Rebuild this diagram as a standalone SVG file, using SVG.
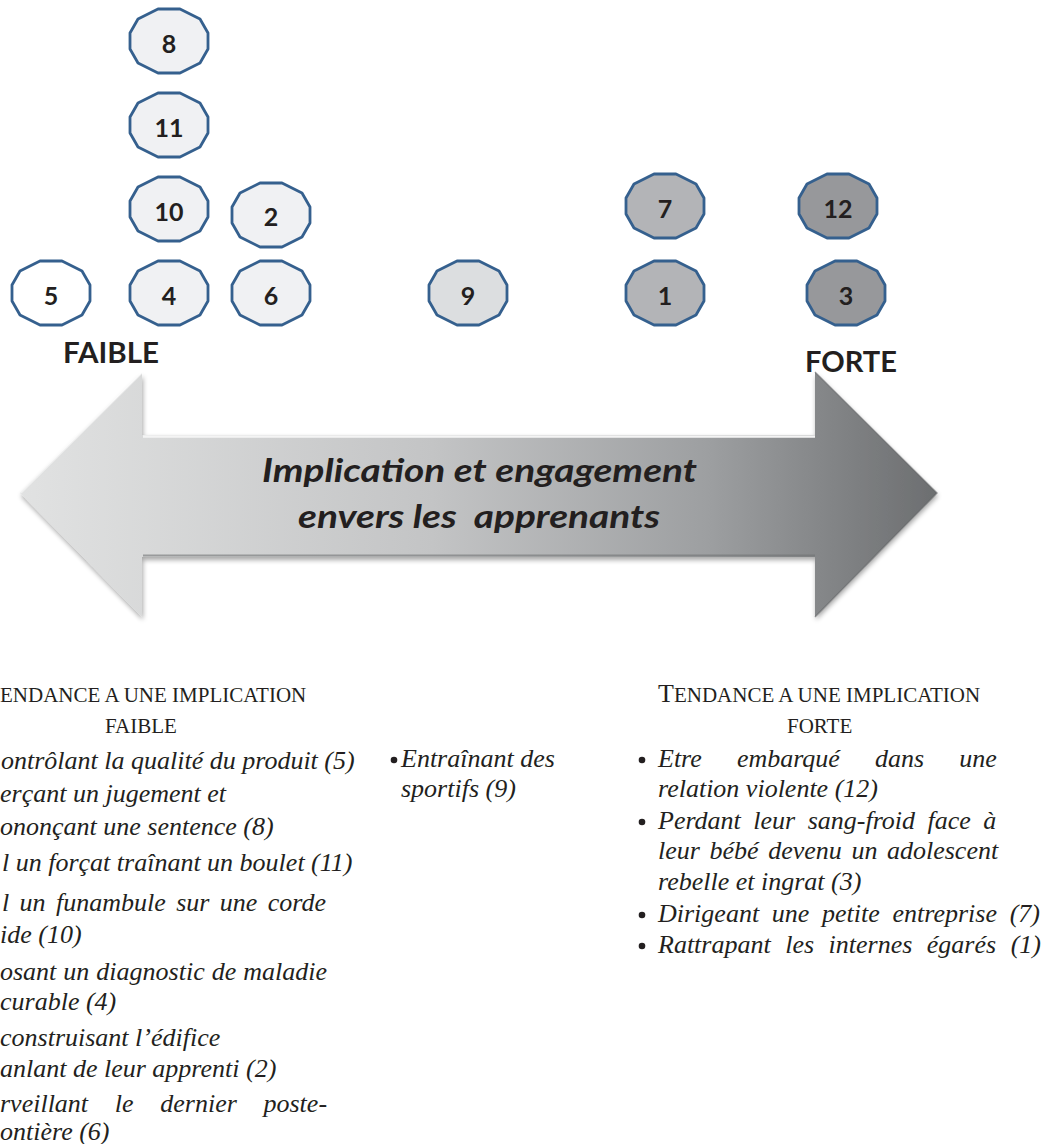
<svg xmlns="http://www.w3.org/2000/svg" width="1043" height="1144" viewBox="0 0 1043 1144">
<defs>
<style>
.oct{stroke:#35608e;stroke-width:2.8;stroke-linejoin:round}
.lvl0{fill:#ffffff}
.lvl1{fill:#f0f1f3}
.lvl2{fill:#dcdee0}
.lvl3{fill:#b3b4b7}
.lvl4{fill:#97989b}
.num{font-family:Lato,"Open Sans","Liberation Sans",sans-serif;font-weight:700;font-size:25px;fill:#231f20;text-anchor:middle}
.pole{font-family:Lato,"Open Sans","Liberation Sans",sans-serif;font-weight:700;font-size:28px;fill:#231f20}
.axis{font-family:Lato,"Open Sans","Liberation Sans",sans-serif;font-weight:700;font-style:italic;font-size:32px;fill:#231f20;white-space:pre}
.hd{font-family:"Liberation Serif","Times New Roman",serif;fill:#231f20;font-size:21px}
.it{font-family:"Liberation Serif","Times New Roman",serif;font-style:italic;font-size:26px;fill:#231f20}
.bul{fill:#231f20}
</style>
<polygon id="oct" points="-11,-32 11,-32 31,-22 39,-8 39,8 31,22 11,32 -11,32 -31,22 -39,8 -39,-8 -31,-22"/>
<linearGradient id="arrowGrad" x1="20" y1="0" x2="937" y2="0" gradientUnits="userSpaceOnUse">
<stop offset="0" stop-color="#e1e2e2"/>
<stop offset="0.45" stop-color="#c3c4c5"/>
<stop offset="0.75" stop-color="#9d9fa1"/>
<stop offset="1" stop-color="#6c6e70"/>
</linearGradient>
<filter id="shadow" x="-5%" y="-10%" width="110%" height="130%">
<feGaussianBlur in="SourceAlpha" stdDeviation="2.5"/>
<feOffset dx="1" dy="3" result="b"/>
<feComponentTransfer><feFuncA type="linear" slope="0.35"/></feComponentTransfer>
<feMerge><feMergeNode/><feMergeNode in="SourceGraphic"/></feMerge>
</filter>
</defs>
<rect width="1043" height="1144" fill="#ffffff"/>

<g id="node-8" transform="translate(169,41)"><use href="#oct" class="oct lvl1"/><text class="num" y="12">8</text></g>
<g id="node-11" transform="translate(169,125)"><use href="#oct" class="oct lvl1"/><text class="num" y="12">11</text></g>
<g id="node-10" transform="translate(169,209)"><use href="#oct" class="oct lvl1"/><text class="num" y="12">10</text></g>
<g id="node-2" transform="translate(271,215)"><use href="#oct" class="oct lvl1"/><text class="num" y="11">2</text></g>
<g id="node-4" transform="translate(169,293)"><use href="#oct" class="oct lvl1"/><text class="num" y="12">4</text></g>
<g id="node-6" transform="translate(271,293)"><use href="#oct" class="oct lvl1"/><text class="num" y="12">6</text></g>
<g id="node-5" transform="translate(51,293)"><use href="#oct" class="oct lvl0"/><text class="num" y="12">5</text></g>
<g id="node-9" transform="translate(468,293)"><use href="#oct" class="oct lvl2"/><text class="num" y="12">9</text></g>
<g id="node-7" transform="translate(665,206)"><use href="#oct" class="oct lvl3"/><text class="num" y="12">7</text></g>
<g id="node-1" transform="translate(665,293)"><use href="#oct" class="oct lvl3"/><text class="num" y="12">1</text></g>
<g id="node-12" transform="translate(838,206)"><use href="#oct" class="oct lvl4"/><text class="num" y="12">12</text></g>
<g id="node-3" transform="translate(846,293)"><use href="#oct" class="oct lvl4"/><text class="num" y="12">3</text></g>

<g id="pole-labels">
<text class="pole" x="63" y="363" textLength="96" lengthAdjust="spacingAndGlyphs">FAIBLE</text>
<text class="pole" x="805" y="372" textLength="92" lengthAdjust="spacingAndGlyphs">FORTE</text>
</g>

<g id="connectors">
<g id="axis-arrow">
<polygon points="20,493 142,373 142,435 815,435 815,372 937,493 815,617 815,557 142,557 142,617" fill="url(#arrowGrad)" filter="url(#shadow)"/>
<line x1="143" y1="436.5" x2="815" y2="436.5" stroke="#f4f4f4" stroke-width="2.5"/>
<line x1="143" y1="555.5" x2="815" y2="555.5" stroke="#6f7173" stroke-opacity="0.6" stroke-width="2"/>
<polyline points="21,493 142,373" fill="none" stroke="#ffffff" stroke-opacity="0.5" stroke-width="1.5"/>
<polyline points="815,372 937,493 815,617" fill="none" stroke="#5e6062" stroke-opacity="0.5" stroke-width="1.5"/>
<text class="axis" x="262" y="482" textLength="435" lengthAdjust="spacingAndGlyphs">Implication et engagement</text>
<text class="axis" x="298" y="528" textLength="362" lengthAdjust="spacingAndGlyphs">envers les  apprenants</text>
</g>
</g>

<g id="col-faible">
<text class="hd" x="0" y="702">ENDANCE A UNE IMPLICATION</text>
<text class="hd" x="105" y="733">FAIBLE</text>
<text class="it" x="1" y="769">ontrôlant la qualité du produit (5)</text>
<text class="it" x="0" y="802">erçant un jugement et</text>
<text class="it" x="0" y="835">ononçant une sentence (8)</text>
<text class="it" x="2" y="871">l un forçat traînant un boulet (11)</text>
<text class="it" x="2" y="911" word-spacing="3.9">l un funambule sur une corde</text>
<text class="it" x="0" y="943">ide (10)</text>
<text class="it" x="0" y="980" word-spacing="0.5">osant un diagnostic de maladie</text>
<text class="it" x="0" y="1010">curable (4)</text>
<text class="it" x="0" y="1046">construisant l’édifice</text>
<text class="it" x="0" y="1077">anlant de leur apprenti (2)</text>
<text class="it" x="0" y="1112" word-spacing="20.2">rveillant le dernier poste-</text>
<text class="it" x="0" y="1140">ontière (6)</text>
</g>

<g id="col-milieu">
<circle class="bul" cx="394" cy="760" r="3.3"/>
<text class="it" x="401" y="767">Entraînant des</text>
<text class="it" x="401" y="797">sportifs (9)</text>
</g>

<g id="col-forte">
<text class="hd" x="658" y="702"><tspan font-size="26">T</tspan>ENDANCE A UNE IMPLICATION</text>
<text class="hd" x="787" y="733">FORTE</text>
<circle class="bul" cx="642" cy="760" r="3.3"/>
<text class="it" x="658" y="767" word-spacing="28.6">Etre embarqué dans une</text>
<text class="it" x="658" y="797">relation violente (12)</text>
<circle class="bul" cx="642" cy="822" r="3.3"/>
<text class="it" x="658" y="829" word-spacing="6">Perdant leur sang-froid face à</text>
<text class="it" x="658" y="859" word-spacing="3.1">leur bébé devenu un adolescent</text>
<text class="it" x="658" y="890">rebelle et ingrat (3)</text>
<circle class="bul" cx="642" cy="915" r="3.3"/>
<text class="it" x="658" y="922" word-spacing="6.2">Dirigeant une petite entreprise (7)</text>
<circle class="bul" cx="642" cy="946" r="3.3"/>
<text class="it" x="658" y="953" word-spacing="8">Rattrapant les internes égarés (1)</text>
</g>
</svg>
